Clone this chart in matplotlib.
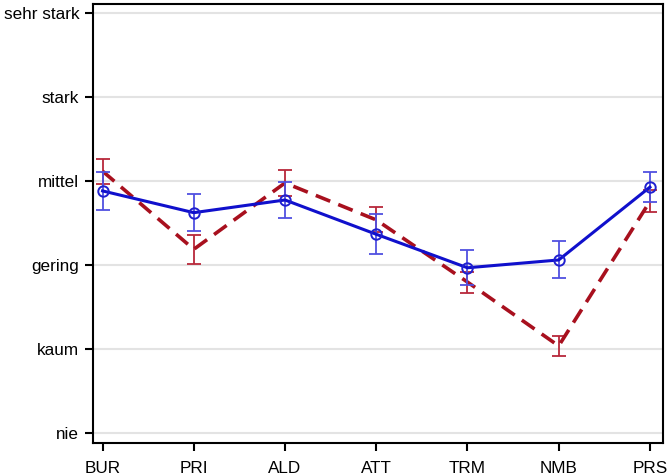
import numpy as np
import matplotlib.pyplot as plt

# categories and scale labels
categories = ['BUR', 'PRI', 'ALD', 'ATT', 'TRM', 'NMB', 'PRS']
scale_labels = ['nie', 'kaum', 'gering', 'mittel', 'stark', 'sehr stark']

# blue series (solid, circles)
blue_mean = [2.885, 2.626, 2.777, 2.369, 1.97, 2.063, 2.93]
blue_err = [0.225, 0.22, 0.215, 0.24, 0.21, 0.22, 0.18]

# red series (dashed)
red_mean = [3.12, 2.19, 2.98, 2.54, 1.80, 1.04, 2.76]
red_err = [0.15, 0.17, 0.15, 0.15, 0.125, 0.12, 0.13]

plt.rcParams['font.family'] = ['Liberation Sans', 'DejaVu Sans']

fig = plt.figure(figsize=(6.71, 4.76), dpi=100)
ax = fig.add_axes([0.1379, 0.070, 0.8497, 0.9216])

x = np.arange(len(categories))

# grid
for yv in range(len(scale_labels)):
    ax.axhline(yv, color='#e3e3e3', lw=1.5, zorder=0)

ax.errorbar(x, red_mean, yerr=red_err, fmt='none', ecolor='#b8283a',
            elinewidth=1.3, capsize=5.3, capthick=1.3, zorder=2)
ax.plot(x, red_mean, color='#a8101e', lw=2.6, dashes=(4.3, 2.4), zorder=3)

ax.errorbar(x, blue_mean, yerr=blue_err, fmt='none', ecolor='#5050e0',
            elinewidth=1.3, capsize=5.3, capthick=1.3, zorder=4)
ax.plot(x, blue_mean, color='#1010cc', lw=2.2, marker='o', ms=7.5,
        mfc='none', mec='#2020d0', mew=1.4, zorder=5)

ax.set_xlim(-0.11, 6.14)
ax.set_ylim(-0.112, 5.11)
ax.set_xticks(x)
ax.set_xticklabels(categories)
ax.set_yticks(range(len(scale_labels)))
ax.set_yticklabels(scale_labels)

ax.tick_params(axis='both', labelsize=12.3, length=6, width=1.5,
               direction='out', colors='black')
ax.tick_params(axis='x', pad=7)
ax.tick_params(axis='y', pad=3.5)
for sp in ax.spines.values():
    sp.set_linewidth(1.5)

fig.savefig('out.png', dpi=100)
